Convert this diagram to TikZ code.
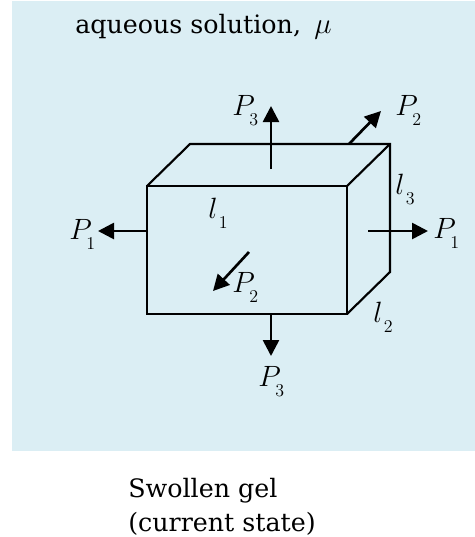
\documentclass[tikz,border=0pt]{standalone}
\usepackage{fix-cm}
\usepackage{amsmath,amssymb}
\usepackage{fontspec}
\setmainfont{DejaVu Serif}
\usepackage{tikz}
\usetikzlibrary{arrows.meta}
\definecolor{gelBack}{RGB}{219,238,244}
\DeclareMathSizes{22}{22}{13.5}{13.5}
\tikzset{
	edgeLine/.style={line width=1.6pt, line join=miter},
	loadArrow/.style={-{Triangle[length=12pt,width=12pt]}, line width=2pt},
	symLabel/.style={inner sep=0pt, anchor=base west, font=\fontsize{22}{26}\selectfont},
	capLabel/.style={inner sep=0pt, anchor=base west, font=\fontsize{19}{23}\selectfont}
}
\newcommand{\symP}[1]{\ensuremath{P\kern-4pt\lower8pt\hbox{$\scriptscriptstyle #1$}}}
\newcommand{\syml}[1]{\ensuremath{l\kern1pt\lower8pt\hbox{$\scriptscriptstyle #1$}}}
\begin{document}
\begin{tikzpicture}[x=0.75pt,y=-0.75pt]
	\useasboundingbox (0,0) rectangle (475,537);
	\fill[gelBack] (12,1) rectangle (475,451);
	% box corners
	\coordinate (frontTL) at (147,186);
	\coordinate (frontTR) at (347,186);
	\coordinate (frontBR) at (347,314);
	\coordinate (frontBL) at (147,314);
	\coordinate (backTL) at (190,144);
	\coordinate (backTR) at (390,144);
	\coordinate (backBR) at (390,272);
	\draw[edgeLine] (frontTL) -- (frontTR) -- (frontBR) -- (frontBL) -- cycle;
	\draw[edgeLine] (frontTL) -- (backTL) -- (backTR) -- (backBR) -- (frontBR);
	\draw[edgeLine] (frontTR) -- (backTR);
	% loads
	\coordinate (leftStart) at (148,231);
	\coordinate (leftEnd) at (98,231);
	\coordinate (rightStart) at (368,231);
	\coordinate (rightEnd) at (428,231);
	\coordinate (topStart) at (271,169);
	\coordinate (topEnd) at (271,106);
	\coordinate (bottomStart) at (271,314);
	\coordinate (bottomEnd) at (271,356);
	\coordinate (backStart) at (349,144);
	\coordinate (backEnd) at (381,111);
	\coordinate (frontStart) at (249,252);
	\coordinate (frontEnd) at (213,291);
	\draw[loadArrow] (leftStart) -- (leftEnd);
	\draw[loadArrow] (rightStart) -- (rightEnd);
	\draw[loadArrow] (topStart) -- (topEnd);
	\draw[loadArrow] (bottomStart) -- (bottomEnd);
	\draw[loadArrow] (backStart) -- (backEnd);
	\draw[loadArrow] (frontStart) -- (frontEnd);
	% labels
	\node[symLabel] (pOneLeft) at (69,239) {\symP{1}};
	\node[symLabel] (pOneRight) at (433,238) {\symP{1}};
	\node[symLabel] (pThreeTop) at (232,115) {\symP{3}};
	\node[symLabel] (pThreeBottom) at (258,386) {\symP{3}};
	\node[symLabel] (pTwoBack) at (395,115) {\symP{2}};
	\node[symLabel] (pTwoFront) at (232,292) {\symP{2}};
	\node[symLabel] (lOne) at (208,218) {\syml{1}};
	\node[symLabel] (lThree) at (395,194) {\syml{3}};
	\node[symLabel] (lTwo) at (373,322) {\syml{2}};
	\node[capLabel] (solution) at (75,33) {aqueous solution,\hspace{10pt}{\fontsize{22}{26}\selectfont$\mu$}};
	\node[capLabel] (gelName) at (128,497) {Swollen gel};
	\node[capLabel] (gelState) at (128,531) {(current state)};
\end{tikzpicture}
\end{document}
